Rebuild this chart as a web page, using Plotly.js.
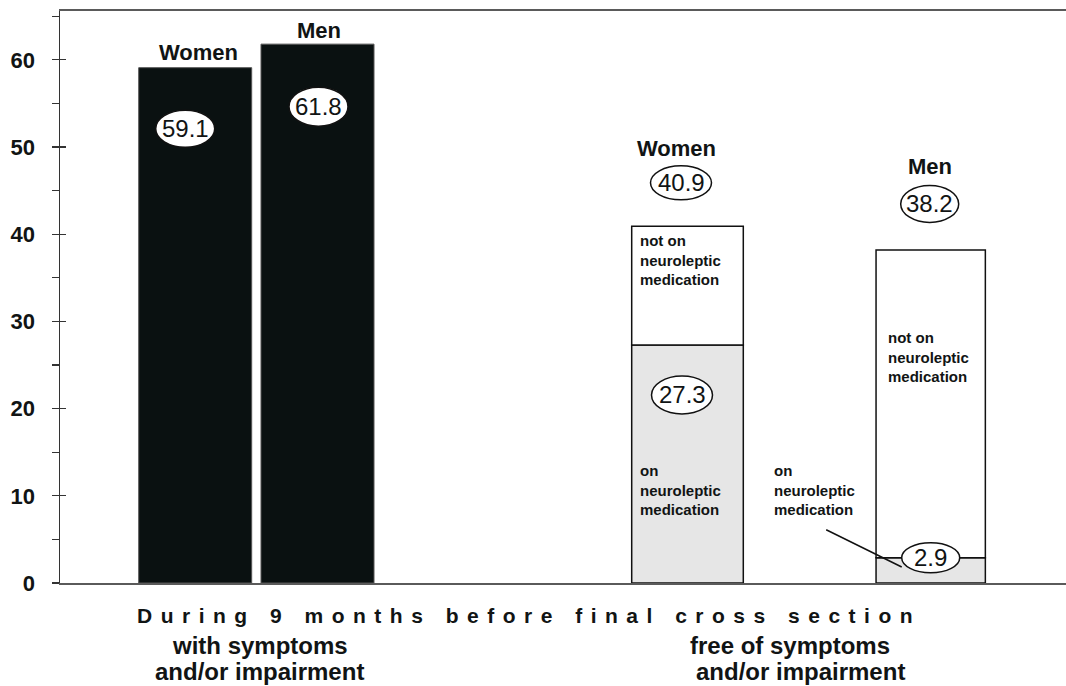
<!DOCTYPE html>
<html>
<head>
<meta charset="utf-8">
<script src="https://cdn.plot.ly/plotly-3.0.1.min.js"></script>
<style>
  html, body { margin: 0; padding: 0; background: #ffffff; }
  #chart { width: 1066px; height: 686px; }
</style>
</head>
<body>
<div id="chart"></div>
<script>
// ---- data ----
const sexes = ['Women', 'Men'];
const symptomatic = [59.1, 61.8];          // with symptoms and/or impairment
const symptomFreeTotal = [40.9, 38.2];     // free of symptoms and/or impairment
const symptomFreeOnMed = [27.3, 2.9];      // of which on neuroleptic medication
const groupLabels = ['with symptoms', 'and/or impairment', 'free of symptoms', 'and/or impairment'];
const periodLabel = 'During 9 months before final cross section';
const medLabelOn = 'on<br>neuroleptic<br>medication';
const medLabelOff = 'not on<br>neuroleptic<br>medication';

const symptomFreeOffMed = symptomFreeTotal.map((t, i) => +(t - symptomFreeOnMed[i]).toFixed(1));

// ---- layout positions (not data) ----
const xSym = [1.352, 2.575];
const wSym = [1.13, 1.13];
const xFree = [6.275, 8.707];
const wFree = [1.116, 1.093];

const FONT = '"Liberation Sans", Arial, Helvetica, sans-serif';
const INK = '#111414';

const traces = [
  {
    type: 'bar', x: xSym, y: symptomatic, width: wSym,
    marker: { color: '#0a1111', line: { color: '#555', width: 1 } },
    hoverinfo: 'skip', showlegend: false
  },
  {
    type: 'bar', x: xFree, y: symptomFreeOnMed, width: wFree,
    marker: { color: '#e6e6e6', line: { color: '#111', width: 1.5 } },
    hoverinfo: 'skip', showlegend: false
  },
  {
    type: 'bar', x: xFree, y: symptomFreeOffMed, base: symptomFreeOnMed, width: wFree,
    marker: { color: '#ffffff', line: { color: '#111', width: 1.5 } },
    hoverinfo: 'skip', showlegend: false
  }
];

const shapes = [];
const annotations = [];

function ellipseLabel(x, y, val, dx, dy, w, h) {
  shapes.push({
    type: 'circle', layer: 'above',
    xref: 'x', yref: 'y', xsizemode: 'pixel', ysizemode: 'pixel',
    xanchor: x, yanchor: y,
    x0: dx - w / 2, x1: dx + w / 2, y0: dy - h / 2, y1: dy + h / 2,
    fillcolor: '#ffffff', line: { color: '#111', width: 1.5 }
  });
  annotations.push({
    x: x, y: y, xref: 'x', yref: 'y', xshift: dx, yshift: dy,
    xanchor: 'center', yanchor: 'middle', showarrow: false,
    text: val.toFixed(1), font: { family: FONT, size: 24, color: INK }
  });
}

function sexLabel(x, y, txt, dx, dy, anchor) {
  annotations.push({
    x: x, y: y, xref: 'x', yref: 'y', xshift: dx, yshift: dy,
    xanchor: 'center', yanchor: anchor, showarrow: false,
    text: '<b>' + txt + '</b>', font: { family: FONT, size: 22, color: INK }
  });
}

function medLabel(x, y, txt, dx, dy) {
  annotations.push({
    x: x, y: y, xref: 'x', yref: 'y', xshift: dx, yshift: dy,
    xanchor: 'left', yanchor: 'middle', align: 'left', showarrow: false,
    text: '<b>' + txt + '</b>', font: { family: FONT, size: 15, color: INK }
  });
}

// leader line for "on neuroleptic medication" (men) - drawn before the ellipse so the ellipse covers it
annotations.push({
  x: xFree[1], y: 0, xref: 'x', yref: 'y', xshift: -29, yshift: 16,
  text: '', showarrow: true, arrowhead: 0, arrowwidth: 1.5, arrowcolor: '#111',
  ax: -77, ay: -38, standoff: 0, startstandoff: 0
});

// symptomatic bars
sexLabel(xSym[0], symptomatic[0], sexes[0], 3, 1, 'bottom');
sexLabel(xSym[1], symptomatic[1], sexes[1], 1, -1, 'bottom');
ellipseLabel(xSym[0], symptomatic[0], symptomatic[0], -10, -61, 59, 37);
ellipseLabel(xSym[1], symptomatic[1], symptomatic[1], 1, -62.5, 59, 39);

// symptom-free bars
sexLabel(xFree[0], symptomFreeTotal[0], sexes[0], -11, 78, 'middle');
sexLabel(xFree[1], symptomFreeTotal[1], sexes[1], -1, 83, 'middle');
ellipseLabel(xFree[0], symptomFreeTotal[0], symptomFreeTotal[0], -6.5, 43.5, 61, 34);
ellipseLabel(xFree[1], symptomFreeTotal[1], symptomFreeTotal[1], -1, 46, 58, 37);
ellipseLabel(xFree[0], symptomFreeOnMed[0], symptomFreeOnMed[0], -5.5, -50, 61, 38);
ellipseLabel(xFree[1], symptomFreeOnMed[1], symptomFreeOnMed[1], 0, 0, 58, 30);

medLabel(xFree[0] - wFree[0] / 2, symptomFreeTotal[0], medLabelOff, 6, -34);
medLabel(xFree[0] - wFree[0] / 2, 0, medLabelOn, 6, 93);
medLabel(xFree[1] - wFree[1] / 2, 0, medLabelOff, 10, 226);
medLabel(xFree[1] - wFree[1] / 2, 0, medLabelOn, -104, 93);

// bottom texts (paper coordinates)
function paperX(px) { return (px - 60) / 1006; }
function paperY(py) { return (583 - py) / 572; }
annotations.push({
  x: paperX(524.5), y: paperY(615.5), xref: 'paper', yref: 'paper', xshift: 4,
  xanchor: 'center', yanchor: 'middle', showarrow: false,
  text: '<b><span style="letter-spacing:8.5px">' + periodLabel + '</span></b>',
  font: { family: FONT, size: 21, color: INK }
});
const gx = [260, 259, 790, 800];
const gy = [645.5, 671.5, 645.5, 671.5];
groupLabels.forEach((t, i) => {
  annotations.push({
    x: paperX(gx[i]), y: paperY(gy[i]), xref: 'paper', yref: 'paper',
    xanchor: 'center', yanchor: 'middle', showarrow: false,
    text: '<b>' + t + '</b>', font: { family: FONT, size: 24, color: INK }
  });
});

const layout = {
  width: 1066, height: 686,
  margin: { l: 60, r: 0, t: 11, b: 103, pad: 0 },
  paper_bgcolor: '#ffffff', plot_bgcolor: '#ffffff',
  barmode: 'overlay', bargap: 0,
  font: { family: FONT, color: INK },
  xaxis: {
    range: [0, 10.06], showgrid: false, zeroline: false,
    showticklabels: false, ticks: '',
    showline: true, mirror: true, linecolor: '#5a5a5a', linewidth: 2,
    fixedrange: true
  },
  yaxis: {
    range: [0, 65.6], dtick: 10, tick0: 0,
    showgrid: false, zeroline: false,
    showline: true, linecolor: '#333', linewidth: 1.5,
    ticks: 'outside', ticklen: 7, tickwidth: 1.2, tickcolor: '#333',
    minor: { dtick: 5, ticks: 'outside', ticklen: 7, tickwidth: 1.2, tickcolor: '#333' },
    tickfont: { family: FONT, size: 22, color: INK, weight: 'bold' },
    ticklabelstandoff: 12,
    fixedrange: true
  },
  yaxis2: {
    overlaying: 'y', side: 'left', range: [0, 65.6], dtick: 10, tick0: 0,
    showgrid: false, zeroline: false, showline: false, showticklabels: false,
    ticks: 'inside', ticklen: 6, tickwidth: 1.2, tickcolor: '#333',
    fixedrange: true
  },
  shapes: shapes,
  annotations: annotations,
  hovermode: false
};

// dummy trace to activate yaxis2 (inner half of the major ticks)
traces.push({ type: 'scatter', x: [], y: [], yaxis: 'y2', showlegend: false, hoverinfo: 'skip' });

Plotly.newPlot('chart', traces, layout, { displayModeBar: false, staticPlot: true });
</script>
</body>
</html>
